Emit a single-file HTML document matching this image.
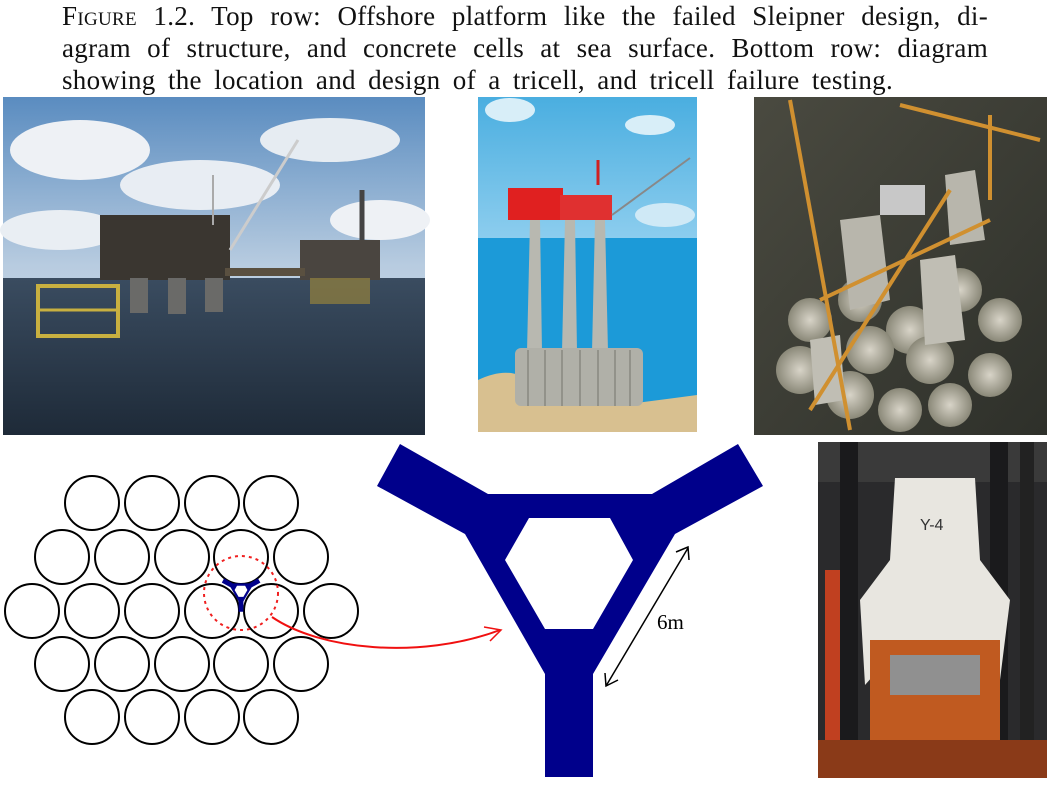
<!DOCTYPE html>
<html><head><meta charset="utf-8"><style>
html,body{margin:0;padding:0;background:#fff;}
body{width:1051px;height:792px;position:relative;overflow:hidden;}
.ln{position:absolute;left:62px;font-family:"Liberation Serif",serif;font-size:27px;line-height:31.5px;letter-spacing:0.3px;text-align:justify;text-align-last:justify;color:#111;}
.sc{font-variant:small-caps;}
svg{position:absolute;left:0;top:0;}
</style></head><body>
<div class="ln" style="top:1px;width:926px;"><span class="sc">Figure</span> 1.2. Top row: Offshore platform like the failed Sleipner design, di-</div>
<div class="ln" style="top:33px;width:926px;">agram of structure, and concrete cells at sea surface. Bottom row: diagram</div>
<div class="ln" style="top:65px;width:831px;">showing the location and design of a tricell, and tricell failure testing.</div>
<svg width="1051" height="792" viewBox="0 0 1051 792">
<defs>
<linearGradient id="sky1" x1="0" y1="0" x2="0" y2="1"><stop offset="0" stop-color="#5a8cc0"/><stop offset="0.5" stop-color="#b8cce0"/><stop offset="1" stop-color="#dfe6ee"/></linearGradient>
<linearGradient id="sea1" x1="0" y1="0" x2="0" y2="1"><stop offset="0" stop-color="#3a4c60"/><stop offset="1" stop-color="#1e2a38"/></linearGradient>
<linearGradient id="sky2" x1="0" y1="0" x2="0" y2="1"><stop offset="0" stop-color="#4aaee0"/><stop offset="1" stop-color="#8ccdee"/></linearGradient>
<linearGradient id="p3" x1="0" y1="0" x2="1" y2="1"><stop offset="0" stop-color="#4a4a40"/><stop offset="1" stop-color="#2e302a"/></linearGradient>
<radialGradient id="cell"><stop offset="0" stop-color="#d8d4c8"/><stop offset="1" stop-color="#8a8878"/></radialGradient>
</defs>
<rect x="3" y="97" width="422" height="338" fill="url(#sky1)"/>
<ellipse cx="80" cy="150" rx="70" ry="30" fill="#eef1f5"/>
<ellipse cx="200" cy="185" rx="80" ry="25" fill="#e8edf3"/>
<ellipse cx="330" cy="140" rx="70" ry="22" fill="#e6ecf2"/>
<ellipse cx="380" cy="220" rx="50" ry="20" fill="#eef1f5"/>
<ellipse cx="60" cy="230" rx="60" ry="20" fill="#e9eef3"/>
<rect x="3" y="278" width="422" height="157" fill="url(#sea1)"/>
<rect x="100" y="215" width="130" height="65" fill="#3a3630"/>
<rect x="300" y="240" width="80" height="40" fill="#4a4540"/>
<rect x="225" y="268" width="80" height="8" fill="#5a5040"/>
<rect x="130" y="278" width="18" height="35" fill="#6a6a68"/>
<rect x="168" y="278" width="18" height="36" fill="#6a6a68"/>
<rect x="205" y="278" width="18" height="34" fill="#6a6a68"/>
<rect x="310" y="278" width="60" height="26" fill="#8a7a40" opacity="0.8"/>
<rect x="38" y="286" width="80" height="50" fill="none" stroke="#c8b040" stroke-width="4"/>
<line x1="38" y1="310" x2="118" y2="310" stroke="#c8b040" stroke-width="3"/>
<line x1="230" y1="250" x2="298" y2="140" stroke="#ccc" stroke-width="3"/>
<line x1="213" y1="225" x2="213" y2="175" stroke="#aaa" stroke-width="2"/>
<line x1="362" y1="240" x2="362" y2="190" stroke="#444" stroke-width="5"/>
<rect x="478" y="97" width="219" height="141" fill="url(#sky2)"/>
<ellipse cx="510" cy="110" rx="25" ry="12" fill="#d8eef8"/>
<ellipse cx="650" cy="125" rx="25" ry="10" fill="#d8eef8"/>
<ellipse cx="665" cy="215" rx="30" ry="12" fill="#cfe9f6"/>
<rect x="478" y="238" width="219" height="194" fill="#1c9ad8"/>
<path d="M478,380 Q520,360 540,395 L620,405 Q660,400 697,395 L697,432 L478,432 Z" fill="#d8c090"/>
<rect x="508" y="188" width="55" height="32" fill="#e02020"/>
<rect x="560" y="195" width="52" height="25" fill="#e03030"/>
<line x1="612" y1="215" x2="690" y2="158" stroke="#888" stroke-width="2"/>
<line x1="598" y1="185" x2="598" y2="160" stroke="#d02020" stroke-width="3"/>
<polygon points="530,220 540,220 542,352 527,352" fill="#b8b8b0"/>
<polygon points="565,220 575,220 577,352 562,352" fill="#b8b8b0"/>
<polygon points="595,220 605,220 608,352 592,352" fill="#b8b8b0"/>
<rect x="515" y="348" width="128" height="58" rx="6" fill="#b0b0a8"/>
<g stroke="#888880" stroke-width="1.5"><line x1="528" y1="350" x2="528" y2="406"/><line x1="545" y1="350" x2="545" y2="406"/><line x1="562" y1="350" x2="562" y2="406"/><line x1="580" y1="350" x2="580" y2="406"/><line x1="598" y1="350" x2="598" y2="406"/><line x1="615" y1="350" x2="615" y2="406"/><line x1="630" y1="350" x2="630" y2="406"/></g>
<rect x="754" y="97" width="293" height="338" fill="url(#p3)"/>
<g fill="url(#cell)">
<circle cx="810" cy="320" r="22"/><circle cx="800" cy="370" r="24"/><circle cx="850" cy="395" r="24"/><circle cx="900" cy="410" r="22"/><circle cx="950" cy="405" r="22"/><circle cx="990" cy="375" r="22"/><circle cx="1000" cy="320" r="22"/><circle cx="960" cy="290" r="22"/><circle cx="910" cy="330" r="24"/><circle cx="870" cy="350" r="24"/><circle cx="930" cy="360" r="24"/><circle cx="860" cy="300" r="22"/>
</g>
<polygon points="840,220 880,215 890,300 850,310" fill="#b8b6ac"/>
<polygon points="920,260 955,255 965,340 925,345" fill="#c0beb4"/>
<polygon points="945,175 975,170 985,240 950,245" fill="#b8b6ac"/>
<polygon points="810,340 840,335 845,400 815,405" fill="#c0beb4"/>
<rect x="880" y="185" width="45" height="30" fill="#c8c8c8"/>
<g stroke="#d09030" stroke-width="4"><line x1="790" y1="100" x2="850" y2="430"/><line x1="900" y1="105" x2="1040" y2="140"/><line x1="990" y1="115" x2="990" y2="200"/><line x1="810" y1="410" x2="950" y2="190"/><line x1="820" y1="300" x2="990" y2="220"/></g>
<rect x="818" y="442" width="229" height="336" fill="#2a2a2c"/>
<rect x="818" y="442" width="229" height="40" fill="#3a3a3a"/>
<rect x="840" y="442" width="18" height="336" fill="#1a1a1c"/>
<rect x="990" y="442" width="18" height="336" fill="#1a1a1c"/>
<rect x="1020" y="442" width="14" height="336" fill="#222"/>
<rect x="825" y="570" width="15" height="200" fill="#c04020"/>
<polygon points="895,478 975,478 980,560 1010,600 1000,680 960,640 905,640 865,685 860,600 890,560" fill="#e8e6e0"/>
<rect x="870" y="640" width="130" height="100" fill="#c05a20"/>
<rect x="890" y="655" width="90" height="40" fill="#909090"/>
<rect x="818" y="740" width="229" height="38" fill="#8a3a18"/>
<text x="920" y="530" font-family="Liberation Sans,sans-serif" font-size="16" fill="#333">Y-4</text>
<g fill="none" stroke="#000" stroke-width="2">
<circle cx="92" cy="503" r="27"/><circle cx="152" cy="503" r="27"/><circle cx="212" cy="503" r="27"/><circle cx="271" cy="503" r="27"/>
<circle cx="62" cy="557" r="27"/><circle cx="122" cy="557" r="27"/><circle cx="182" cy="557" r="27"/><circle cx="241" cy="557" r="27"/><circle cx="301" cy="557" r="27"/>
<circle cx="32" cy="611" r="27"/><circle cx="92" cy="611" r="27"/><circle cx="152" cy="611" r="27"/><circle cx="212" cy="611" r="27"/><circle cx="271" cy="611" r="27"/><circle cx="331" cy="611" r="27"/>
<circle cx="62" cy="664" r="27"/><circle cx="122" cy="664" r="27"/><circle cx="182" cy="664" r="27"/><circle cx="241" cy="664" r="27"/><circle cx="301" cy="664" r="27"/>
<circle cx="92" cy="717" r="27"/><circle cx="152" cy="717" r="27"/><circle cx="212" cy="717" r="27"/><circle cx="271" cy="717" r="27"/>
</g>
<circle cx="241" cy="593" r="37" fill="none" stroke="#f02020" stroke-width="2" stroke-dasharray="3,4"/>
<g transform="translate(241,590) scale(0.1) translate(-569,-560)">
<path fill-rule="evenodd" fill="#00008b" d="M400,444 L377,486 L465,534 L545,674 L545,777 L593,777 L593,674 L675,534 L763,486 L738,444 L652,494 L488,494 Z M529,518 L610,518 L633,560 L593,629 L545,629 L505,560 Z"/>
</g>
<path fill-rule="evenodd" fill="#00008b" d="M400,444 L377,486 L465,534 L545,674 L545,777 L593,777 L593,674 L675,534 L763,486 L738,444 L652,494 L488,494 Z M529,518 L610,518 L633,560 L593,629 L545,629 L505,560 Z"/>
<path d="M272,617 C320,650 420,660 500,630" fill="none" stroke="#f01010" stroke-width="2"/>
<path d="M484,627 L501,630 L490,641" fill="none" stroke="#f01010" stroke-width="1.5"/>
<line x1="688" y1="548" x2="606" y2="686" stroke="#000" stroke-width="1.5"/>
<path d="M676,552 L688,547 L689,560" fill="none" stroke="#000" stroke-width="1.5"/>
<path d="M605,673 L606,686 L618,680" fill="none" stroke="#000" stroke-width="1.5"/>
<text x="657" y="629" font-family="Liberation Serif,serif" font-size="21" fill="#000">6m</text>
</svg>
</body></html>
